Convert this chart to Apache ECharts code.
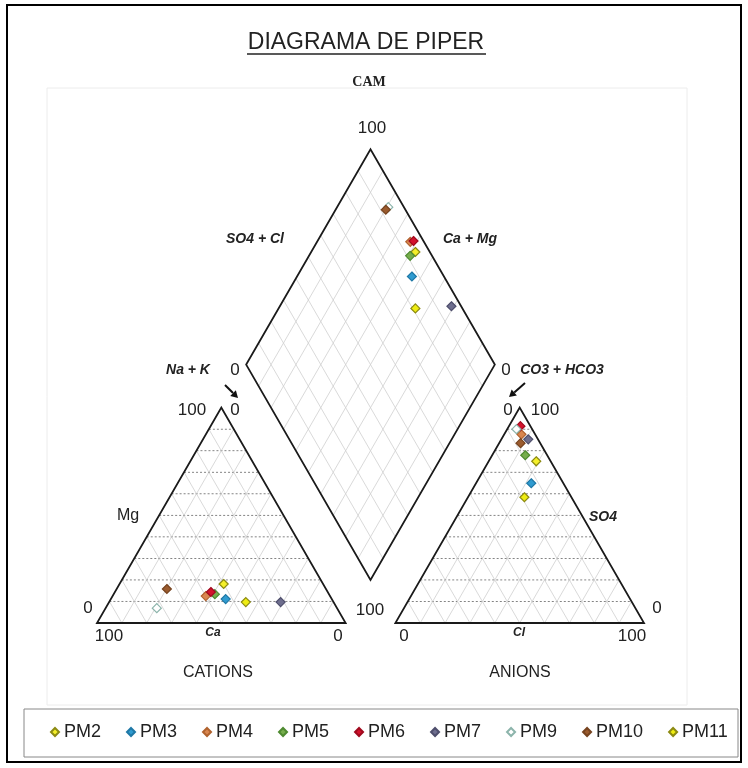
<!DOCTYPE html>
<html>
<head>
<meta charset="utf-8">
<script src="https://cdn.jsdelivr.net/npm/echarts@6/dist/echarts.min.js"></script>
<style>
  html, body { margin: 0; padding: 0; background: #fff; }
  #chart { width: 748px; height: 768px; }
</style>
</head>
<body>
<div id="chart"></div>
<script>
// samples and their ionic percentages (meq %)
const samples = ['PM2', 'PM3', 'PM4', 'PM5', 'PM6', 'PM7', 'PM9', 'PM10', 'PM11']
const ca = [40.0, 42.7, 50.0, 45.9, 47.0, 21.3, 72.5, 64.0, 35.3]
const mg = [18.1, 11.1, 12.5, 13.4, 14.4, 9.7, 6.9, 15.8, 9.7]
const so4 = [75.1, 64.9, 87.6, 77.9, 91.4, 85.3, 90.0, 83.5, 58.4]
const cl = [19.1, 22.2, 6.9, 13.3, 4.6, 10.8, 3.7, 8.6, 22.7]

const fills = ['#f4ef2a', '#2f9bd0', '#d9864f', '#76ad4c', '#d4122c', '#6e6e8e', '#ffffff', '#9a5b2e', '#eeec12']
const borders = ['#8c8a12', '#1f78a6', '#b0622e', '#4e8a30', '#a00a1e', '#4e4e6c', '#8cb4ab', '#76431f', '#8c8a12']

const H = Math.sqrt(3) / 2
const GAP = 20

// piper projection helpers
const cationXY = (i) => {
  const nak = 100 - ca[i] - mg[i]
  return [0.5 * mg[i] + nak, H * mg[i]]
}
const anionXY = (i) => [100 + GAP + 0.5 * so4[i] + cl[i], H * so4[i]]
const diamondXY = (i) => {
  const nak = 100 - ca[i] - mg[i]
  const hco3 = 100 - so4[i] - cl[i]
  const v = 200 + GAP - hco3
  return [(nak + v) / 2, H * (v - nak)]
}
// u = x - y/sqrt3, v = x + y/sqrt3
const uv = (u, v) => [(u + v) / 2, H * (v - u)]

const chart = echarts.init(document.getElementById('chart'))

const frame = (params, api) => {
  const c = (p) => api.coord(p)
  const kids = []
  const seg = (a, b, style) => kids.push({
    type: 'line',
    shape: { x1: c(a)[0], y1: c(a)[1], x2: c(b)[0], y2: c(b)[1] },
    style: style
  })
  const light = { stroke: '#cfcfcf', lineWidth: 0.8 }
  const dash = { stroke: '#666', lineWidth: 0.8, lineDash: [2, 2] }
  const outline = { stroke: '#1a1a1a', lineWidth: 1.8, fill: null }

  ;[0, 100 + GAP].forEach((ox) => {
    for (let k = 10; k < 100; k += 10) {
      seg([ox + k, 0], [ox + (k + 100) / 2, H * (100 - k)], light)
      seg([ox + k, 0], [ox + k / 2, H * k], light)
      seg([ox + k / 2, H * k], [ox + 100 - k / 2, H * k], dash)
    }
    kids.push({
      type: 'polygon',
      shape: { points: [c([ox, 0]), c([ox + 100, 0]), c([ox + 50, H * 100])] },
      style: outline
    })
  })

  const v0 = 100 + GAP
  for (let k = 10; k < 100; k += 10) {
    seg(uv(k, v0), uv(k, v0 + 100), light)
    seg(uv(0, v0 + k), uv(100, v0 + k), light)
  }
  kids.push({
    type: 'polygon',
    shape: { points: [c(uv(0, v0)), c(uv(100, v0)), c(uv(100, v0 + 100)), c(uv(0, v0 + 100))] },
    style: outline
  })
  return { type: 'group', children: kids }
}

const series = [{
  type: 'custom',
  silent: true,
  renderItem: frame,
  data: [[0, 0]],
  z: 1
}]
samples.forEach((name, i) => {
  series.push({
    name: name,
    type: 'scatter',
    symbol: 'diamond',
    symbolSize: 9,
    z: 5,
    itemStyle: { color: fills[i], borderColor: borders[i], borderWidth: 1.2, opacity: 1 },
    data: [cationXY(i), anionXY(i), diamondXY(i)]
  })
})

const txt = (text, x, y, size, extra) => ({
  type: 'text',
  x: x,
  y: y,
  style: Object.assign({
    text: text,
    fill: '#222',
    fontFamily: 'Liberation Sans',
    fontSize: size,
    align: 'center',
    verticalAlign: 'middle'
  }, extra || {})
})
const bi = { fontWeight: 'bold', fontStyle: 'italic' }

const arrow = (x1, y1, x2, y2) => {
  const a = Math.atan2(y2 - y1, x2 - x1)
  const l = 7, w = 4
  const bx = x2 - l * Math.cos(a), by = y2 - l * Math.sin(a)
  return [
    { type: 'line', shape: { x1, y1, x2: bx, y2: by }, style: { stroke: '#111', lineWidth: 2 } },
    {
      type: 'polygon',
      shape: { points: [[x2, y2], [bx - w * Math.sin(a), by + w * Math.cos(a)], [bx + w * Math.sin(a), by - w * Math.cos(a)]] },
      style: { fill: '#111' }
    }
  ]
}

const option = {
  animation: false,
  grid: { left: 97, width: 547, bottom: 145, height: 497.3 },
  xAxis: { type: 'value', min: 0, max: 220, show: false },
  yAxis: { type: 'value', min: 0, max: 200, show: false },
  legend: {
    data: samples,
    left: 50,
    top: 723,
    padding: 0,
    itemGap: 25,
    itemWidth: 8,
    itemHeight: 8,
    icon: 'diamond',
    textStyle: { fontFamily: 'Liberation Sans', fontSize: 18, color: '#222' }
  },
  graphic: [
    { type: 'rect', shape: { x: 7, y: 5, width: 734, height: 757 }, style: { fill: null, stroke: '#000', lineWidth: 2 } },
    { type: 'rect', shape: { x: 47, y: 88, width: 640, height: 617 }, style: { fill: null, stroke: '#ececec', lineWidth: 1 } },
    { type: 'rect', shape: { x: 24, y: 709, width: 714, height: 48 }, style: { fill: null, stroke: '#888', lineWidth: 1 } },
    txt('DIAGRAMA DE PIPER', 366, 43, 23),
    { type: 'line', shape: { x1: 247, y1: 54, x2: 486, y2: 54 }, style: { stroke: '#222', lineWidth: 1.5 } },
    txt('CAM', 369, 82, 14, { fontFamily: 'Liberation Serif', fontWeight: 'bold' }),
    txt('100', 372, 128, 17),
    txt('SO4 + Cl', 255, 239, 14, bi),
    txt('Ca + Mg', 470, 239, 14, bi),
    txt('Na + K', 188, 370, 14, bi),
    txt('0', 235, 370, 17),
    txt('0', 506, 370, 17),
    txt('CO3 + HCO3', 562, 370, 14, bi),
    ...arrow(225, 385, 238, 398),
    ...arrow(525, 383, 509, 397),
    txt('100', 192, 410, 17),
    txt('0', 235, 410, 17),
    txt('0', 508, 410, 17),
    txt('100', 545, 410, 17),
    txt('Mg', 128, 516, 16),
    txt('SO4', 603, 517, 14, bi),
    txt('0', 88, 608, 17),
    txt('0', 657, 608, 17),
    txt('100', 370, 610, 17),
    txt('100', 109, 636, 17),
    txt('Ca', 213, 633, 12, bi),
    txt('0', 338, 636, 17),
    txt('0', 404, 636, 17),
    txt('Cl', 519, 633, 12, bi),
    txt('100', 632, 636, 17),
    txt('CATIONS', 218, 673, 16),
    txt('ANIONS', 520, 673, 16)
  ],
  series: series
}

chart.setOption(option)
</script>
</body>
</html>
